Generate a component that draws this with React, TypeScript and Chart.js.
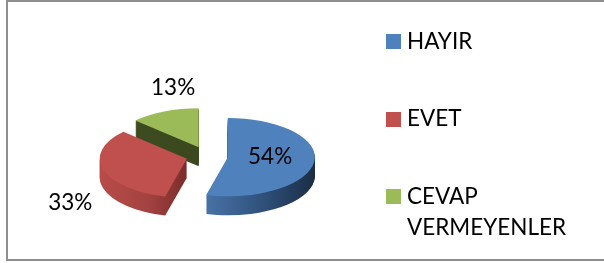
import React, { useEffect, useRef } from "react";
import { Chart, registerables } from "chart.js";

Chart.register(...registerables);

// ---- data ----
const categories = ["HAYIR", "EVET", "CEVAP VERMEYENLER"];
const legendLines = [["HAYIR"], ["EVET"], ["CEVAP", "VERMEYENLER"]];
const shares = [54, 33, 13];
const percentLabels = ["54%", "33%", "13%"];

// ---- styles ----
const topColors = ["#4f81bd", "#c0504d", "#9bbb59"];
const sideStops: [number, string][][] = [
  [[-0.3, "#4a75a9"], [0.35, "#31547f"], [1, "#1b2d46"]],
  [[-1, "#b84c49"], [-0.45, "#a34341"], [0, "#7b2d2b"]],
  [[-1, "#3f4d22"], [0, "#3b481f"]],
];
const labelPlace = [
  { f: 0.49, dx: 0, dy: -3 },
  { f: 1.0, dx: -33, dy: 33 },
  { f: 1.0, dx: 9, dy: -24 },
];
const FONT = "22.5px Lato";

const pie3d = {
  id: "pie3d",
  beforeDatasetsDraw(chart: any, _args: any, opts: any) {
    const ctx: CanvasRenderingContext2D = chart.ctx;
    const arcs: any[] = chart.getDatasetMeta(0).data;
    const { tilt, depth, explode } = opts;
    const drawArc = (arc: any, fill: any, dy: number) => {
      const mid = (arc.startAngle + arc.endAngle) / 2;
      const ox = Math.cos(mid) * explode;
      const oy = Math.sin(mid) * explode * tilt;
      ctx.save();
      ctx.translate(arc.x + ox, arc.y + oy + dy);
      ctx.scale(1, tilt);
      ctx.translate(-arc.x, -arc.y);
      const orig = arc.options;
      arc.options = Object.create(orig, {
        backgroundColor: { value: fill },
        borderWidth: { value: 0 },
        offset: { value: 0 },
        spacing: { value: 0 },
      });
      arc.draw(ctx);
      arc.options = orig;
      ctx.restore();
    };
    const sideFill = (arc: any, i: number) => {
      const R = arc.outerRadius;
      const st = sideStops[i];
      const g = ctx.createLinearGradient(arc.x + st[0][0] * R, 0, arc.x + st[st.length - 1][0] * R, 0);
      const a = st[0][0];
      const b = st[st.length - 1][0];
      st.forEach(([p, c]) => g.addColorStop((p - a) / (b - a), c));
      return g;
    };
    for (let k = depth; k >= 1; k--) {
      arcs.forEach((arc, i) => drawArc(arc, sideFill(arc, i), k));
    }
    arcs.forEach((arc, i) => drawArc(arc, topColors[i], 0));
    return false;
  },
  afterDraw(chart: any, _args: any, opts: any) {
    const ctx: CanvasRenderingContext2D = chart.ctx;
    const arcs: any[] = chart.getDatasetMeta(0).data;
    const { tilt, explode } = opts;
    ctx.save();
    ctx.font = FONT;
    ctx.fillStyle = "#000";
    ctx.textAlign = "center";
    ctx.textBaseline = "middle";
    arcs.forEach((arc, i) => {
      const mid = (arc.startAngle + arc.endAngle) / 2;
      const R = arc.outerRadius;
      const p = labelPlace[i];
      const x = arc.x + Math.cos(mid) * (explode + p.f * R) + p.dx;
      const y = arc.y + Math.sin(mid) * (explode + p.f * R) * tilt + p.dy;
      ctx.fillText(percentLabels[i], x, y);
    });
    // legend
    const lg = opts.legend;
    ctx.textAlign = "left";
    legendLines.forEach((lines, i) => {
      const yc = lg.y0 + i * lg.step;
      ctx.fillStyle = topColors[i];
      ctx.fillRect(lg.boxX, Math.round(yc - lg.box / 2), lg.box, lg.box);
      ctx.fillStyle = "#000";
      lines.forEach((t, j) => ctx.fillText(t, lg.textX, yc + j * lg.lineH));
    });
    ctx.restore();
  },
};

export default function App() {
  const ref = useRef<HTMLCanvasElement>(null);
  useEffect(() => {
    const chart = new Chart(ref.current as HTMLCanvasElement, {
      type: "pie",
      data: {
        labels: categories,
        datasets: [
          {
            data: shares,
            backgroundColor: topColors,
            borderWidth: 0,
          },
        ],
      },
      options: {
        animation: false,
        responsive: false,
        events: [],
        radius: 87,
        layout: { padding: { left: 0, right: 190, top: 49, bottom: 0 } },
        plugins: {
          legend: { display: false },
          tooltip: { enabled: false },
          pie3d: {
            tilt: 0.45,
            depth: 19,
            explode: 21,
            legend: { boxX: 386, box: 15, textX: 407, y0: 41.5, step: 77.5, lineH: 31 },
          },
        } as any,
      } as any,
      plugins: [pie3d as any],
    });
    return () => chart.destroy();
  }, []);
  return (
    <div style={{ position: "absolute", left: 0, top: 0, width: 604, height: 263, overflow: "hidden", background: "#fff" }}>
      <canvas ref={ref} width={604} height={263} style={{ position: "absolute", left: 0, top: 0 }} />
      <div
        style={{
          position: "absolute",
          left: 6,
          top: 0,
          width: 640,
          height: 261,
          boxSizing: "border-box",
          border: "2px solid #8e8e8e",
        }}
      />
    </div>
  );
}
